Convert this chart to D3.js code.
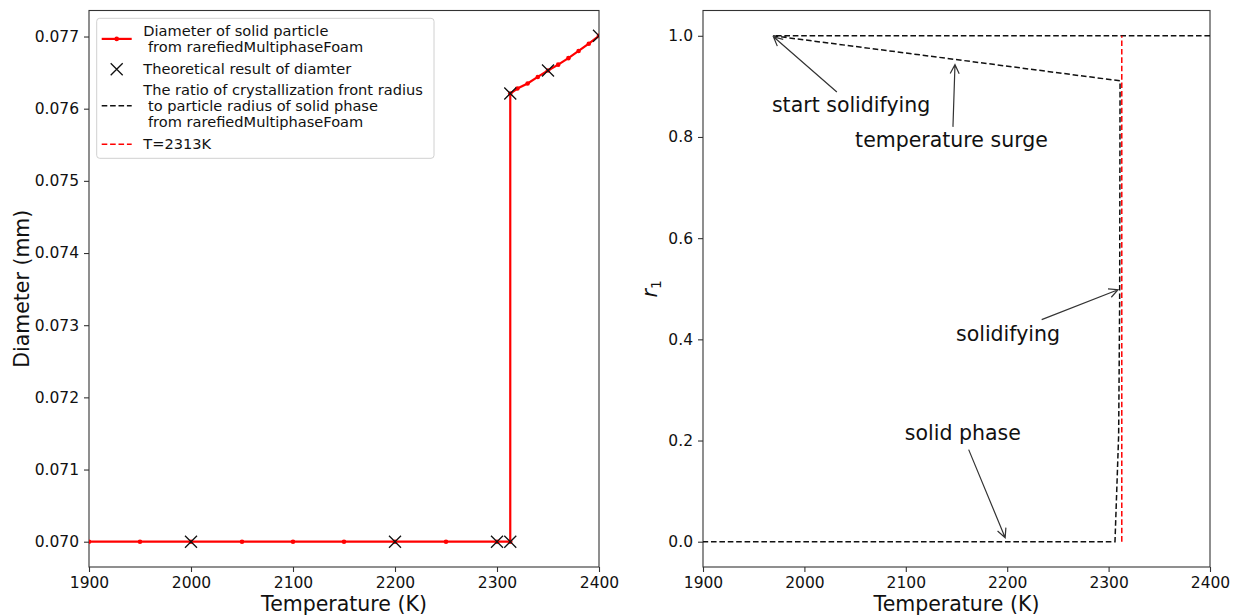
<!DOCTYPE html>
<html>
<head>
<meta charset="utf-8">
<script src="https://cdn.jsdelivr.net/npm/d3@7"></script>
<style>
  html, body { margin: 0; padding: 0; background: #fff; }
  svg { display: block; font-family: "DejaVu Sans", sans-serif; }
</style>
</head>
<body>
<svg id="fig" width="1239" height="616"></svg>
<script>
// ---- Left panel: particle diameter vs temperature ----
const tempSim = [1900, 1950, 2000, 2050, 2100, 2150, 2200, 2250, 2300, 2313,
                 2313, 2320, 2330, 2340, 2350, 2360, 2370, 2380, 2390, 2400];
const diamSim = [0.070, 0.070, 0.070, 0.070, 0.070, 0.070, 0.070, 0.070, 0.070, 0.070,
                 0.07621, 0.07628, 0.07635, 0.07644, 0.07653, 0.07661, 0.07670, 0.07680, 0.07690, 0.07701];

const tempTheory = [2000, 2200, 2300, 2313, 2313, 2350, 2400];
const diamTheory = [0.070, 0.070, 0.070, 0.070, 0.07621, 0.07653, 0.07701];

// ---- Right panel: crystallization front ratio r1 vs temperature ----
const tempRatio = [2400, 1969, 2311.3, 2310.9, 2309.9, 2306.3, 1900];
const ratio     = [1.0, 1.0, 0.911, 0.47, 0.21, 0.0, 0.0];

const meltTemp = 2313;
const meltRatioSpan = [0, 1];

// ---- Axis ticks ----
const xTicks = [1900, 2000, 2100, 2200, 2300, 2400];
const yTicksLeft = [0.070, 0.071, 0.072, 0.073, 0.074, 0.075, 0.076, 0.077];
const yTicksRight = [0.0, 0.2, 0.4, 0.6, 0.8, 1.0];

// ---- Legend entries ----
const legendLabels = [
  ["Diameter of solid particle", " from rarefiedMultiphaseFoam"],
  ["Theoretical result of diamter"],
  ["The ratio of crystallization front radius", " to particle radius of solid phase", " from rarefiedMultiphaseFoam"],
  ["T=2313K"]
];

// ---- Annotations on the right panel (text anchor, arrow tail, arrow tip) ----
const noteText = ["start solidifying", "temperature surge", "solidifying", "solid phase"];
const noteTextPos = [[1968, 0.850], [2050, 0.780], [2149.5, 0.397], [2099, 0.2016]];
const noteTail = [[2032, 0.889], [2146.5, 0.820], [2234, 0.439], [2162, 0.182]];
const noteTip  = [[1969.5, 0.998], [2148.5, 0.943], [2309.3, 0.498], [2198, 0.008]];

const svg = d3.select("#fig");
svg.append("rect").attr("width", 1239).attr("height", 616).attr("fill", "#fff");

const axTop = 10.5, axBottom = 567;
const tickFont = 15.5, labelFont = 20.5;
const dashPat = "5.6,2.8";

function padDomain(vals) {
  const [lo, hi] = d3.extent(vals);
  const m = (hi - lo) * 0.05;
  return [lo - m, hi + m];
}

const xL = d3.scaleLinear().domain([1900, 2400]).range([89, 599]);
const yL = d3.scaleLinear().domain(padDomain(diamSim.concat(diamTheory))).range([axBottom, axTop]);
const xR = d3.scaleLinear().domain([1900, 2400]).range([703, 1210]);
const yR = d3.scaleLinear().domain(padDomain(ratio)).range([axBottom, axTop]);

const defs = svg.append("defs");
defs.append("clipPath").attr("id", "clipL").append("rect")
  .attr("x", 89).attr("y", axTop).attr("width", 510).attr("height", axBottom - axTop);
defs.append("clipPath").attr("id", "clipR").append("rect")
  .attr("x", 703).attr("y", axTop).attr("width", 507).attr("height", axBottom - axTop);

function drawAxes(x, y, yTicks, yFmt) {
  const g = svg.append("g");
  const xAxis = d3.axisBottom(x).tickValues(xTicks).tickFormat(d3.format("d"))
    .tickSizeInner(5).tickSizeOuter(0).tickPadding(5);
  const gx = g.append("g").attr("transform", `translate(0,${axBottom})`).call(xAxis);
  const yAxis = d3.axisLeft(y).tickValues(yTicks).tickFormat(yFmt)
    .tickSizeInner(5).tickSizeOuter(0).tickPadding(5);
  const gy = g.append("g").attr("transform", `translate(${x.range()[0]},0)`).call(yAxis);
  [gx, gy].forEach(a => {
    a.select(".domain").remove();
    a.selectAll(".tick line").attr("stroke", "#333").attr("stroke-width", 1.1);
    a.selectAll(".tick text").attr("font-size", tickFont).attr("fill", "#111")
      .attr("font-family", "DejaVu Sans");
  });
  gx.selectAll(".tick text").attr("dy", "0.72em");
  // frame
  svg.append("rect")
    .attr("x", x.range()[0]).attr("y", axTop)
    .attr("width", x.range()[1] - x.range()[0]).attr("height", axBottom - axTop)
    .attr("fill", "none").attr("stroke", "#333").attr("stroke-width", 1.1);
}

drawAxes(xL, yL, yTicksLeft, d3.format(".3f"));
drawAxes(xR, yR, yTicksRight, d3.format(".1f"));

// axis labels
svg.append("text").attr("x", (89 + 599) / 2).attr("y", 610.5)
  .attr("text-anchor", "middle").attr("font-size", labelFont).attr("fill", "#111")
  .text("Temperature (K)");
svg.append("text").attr("x", (703 + 1210) / 2).attr("y", 610.5)
  .attr("text-anchor", "middle").attr("font-size", labelFont).attr("fill", "#111")
  .text("Temperature (K)");
svg.append("text").attr("transform", `translate(28.5,${(axTop + axBottom) / 2}) rotate(-90)`)
  .attr("text-anchor", "middle").attr("font-size", labelFont).attr("fill", "#111")
  .text("Diameter (mm)");
const rLab = svg.append("text")
  .attr("transform", `translate(657,${(axTop + axBottom) / 2}) rotate(-90)`)
  .attr("text-anchor", "middle").attr("font-size", labelFont).attr("fill", "#111");
rLab.append("tspan").attr("font-style", "italic").text("r");
rLab.append("tspan").attr("font-size", 14).attr("dy", 4).text("1");

// ---- left panel marks ----
const simPts = tempSim.map((t, i) => [t, diamSim[i]]);
const theoryPts = tempTheory.map((t, i) => [t, diamTheory[i]]);
const gL = svg.append("g").attr("clip-path", "url(#clipL)");
gL.append("path")
  .attr("d", d3.line().x(d => xL(d[0])).y(d => yL(d[1]))(simPts))
  .attr("fill", "none").attr("stroke", "#ff0000").attr("stroke-width", 2.2);
gL.selectAll("circle.sim").data(simPts).join("circle")
  .attr("class", "sim")
  .attr("cx", d => xL(d[0])).attr("cy", d => yL(d[1])).attr("r", 2.3)
  .attr("fill", "#ff0000");

function crossPath(cx, cy, s) {
  return `M${cx - s},${cy - s}L${cx + s},${cy + s}M${cx - s},${cy + s}L${cx + s},${cy - s}`;
}
gL.selectAll("path.theory").data(theoryPts).join("path")
  .attr("class", "theory")
  .attr("d", d => crossPath(xL(d[0]), yL(d[1]), 6))
  .attr("stroke", "#111").attr("stroke-width", 1.3).attr("fill", "none");

// ---- right panel marks ----
const ratioPts = tempRatio.map((t, i) => [t, ratio[i]]);
const gR = svg.append("g").attr("clip-path", "url(#clipR)");
gR.append("path")
  .attr("d", d3.line().x(d => xR(d[0])).y(d => yR(d[1]))(ratioPts))
  .attr("fill", "none").attr("stroke", "#111").attr("stroke-width", 1.5)
  .attr("stroke-dasharray", dashPat);
gR.append("path")
  .attr("d", d3.line().x(d => xR(meltTemp)).y(d => yR(d))(meltRatioSpan))
  .attr("fill", "none").attr("stroke", "#ff0000").attr("stroke-width", 1.5)
  .attr("stroke-dasharray", dashPat);

// annotations with open arrowheads
noteText.forEach((txt, i) => {
  const [tx, ty] = noteTextPos[i];
  svg.append("text").attr("x", xR(tx)).attr("y", yR(ty))
    .attr("font-size", labelFont).attr("fill", "#111").text(txt);
  const x0 = xR(noteTail[i][0]), y0 = yR(noteTail[i][1]);
  const x1 = xR(noteTip[i][0]), y1 = yR(noteTip[i][1]);
  const ang = Math.atan2(y1 - y0, x1 - x0);
  const hl = 9, hw = 4.5;
  const bx = x1 - hl * Math.cos(ang), by = y1 - hl * Math.sin(ang);
  const px = -Math.sin(ang) * hw, py = Math.cos(ang) * hw;
  svg.append("path")
    .attr("d", `M${x0},${y0}L${x1},${y1}M${bx + px},${by + py}L${x1},${y1}L${bx - px},${by - py}`)
    .attr("fill", "none").attr("stroke", "#333").attr("stroke-width", 1.2)
    .attr("stroke-linejoin", "miter");
});

// ---- legend ----
const lg = svg.append("g");
lg.append("rect").attr("x", 96.7).attr("y", 18.3).attr("width", 337.3).attr("height", 140)
  .attr("rx", 3).attr("fill", "#fff").attr("fill-opacity", 0.8)
  .attr("stroke", "#d0d0d0").attr("stroke-width", 1);

const legendFont = 14.6, lineStep = 15.8;
const legendFirstBase = [36, 74.3, 95, 149.3];
const hx0 = 101.7, hx1 = 131.7, textX = 143.3;
legendLabels.forEach((lines, i) => {
  const base = legendFirstBase[i];
  const t = lg.append("text").attr("x", textX).attr("y", base)
    .attr("font-size", legendFont).attr("fill", "#111").attr("xml:space", "preserve")
    .style("white-space", "pre");
  lines.forEach((ln, j) => {
    t.append("tspan").attr("x", textX).attr("y", base + j * lineStep).text(ln);
  });
  const cy = base - 5 + (lines.length - 1) * lineStep / 2;
  if (i === 0) {
    lg.append("line").attr("x1", hx0).attr("x2", hx1).attr("y1", cy).attr("y2", cy)
      .attr("stroke", "#ff0000").attr("stroke-width", 2.2);
    lg.append("circle").attr("cx", (hx0 + hx1) / 2).attr("cy", cy).attr("r", 2.3).attr("fill", "#ff0000");
  } else if (i === 1) {
    lg.append("path").attr("d", crossPath((hx0 + hx1) / 2, cy, 6))
      .attr("stroke", "#111").attr("stroke-width", 1.3);
  } else {
    lg.append("line").attr("x1", hx0).attr("x2", hx1).attr("y1", cy).attr("y2", cy)
      .attr("stroke", i === 2 ? "#111" : "#ff0000").attr("stroke-width", 1.5)
      .attr("stroke-dasharray", dashPat);
  }
});
</script>
</body>
</html>
